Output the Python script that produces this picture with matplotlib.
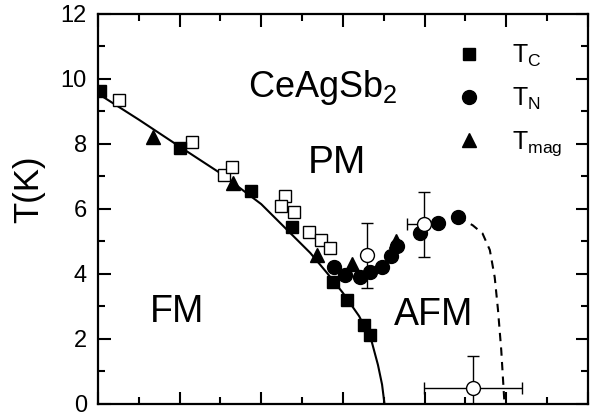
import matplotlib
matplotlib.use('Agg')
import matplotlib.pyplot as plt
from matplotlib.ticker import MultipleLocator

plt.rcParams['font.family'] = ['Liberation Sans', 'DejaVu Sans']
plt.rcParams['mathtext.fontset'] = 'custom'
plt.rcParams['mathtext.rm'] = 'Liberation Sans'
plt.rcParams['mathtext.it'] = 'Liberation Sans:italic'

# Pressure (kbar) / temperature (K) points of the phase diagram
tc_filled_p = [0.2, 10.0, 18.8, 23.8, 28.8, 30.5, 32.6, 33.3]
tc_filled_t = [9.62, 7.88, 6.55, 5.45, 3.75, 3.2, 2.43, 2.12]

tc_open_p = [2.6, 11.5, 15.5, 16.4, 22.9, 22.4, 24.0, 25.8, 27.3, 28.4]
tc_open_t = [9.35, 8.06, 7.05, 7.3, 6.4, 6.1, 5.9, 5.3, 5.05, 4.8]

tn_p = [28.9, 30.2, 32.1, 33.3, 34.8, 35.9, 36.6, 39.4, 41.6, 44.1]
tn_t = [4.2, 3.97, 3.9, 4.05, 4.2, 4.55, 4.85, 5.25, 5.58, 5.75]

tmag_p = [6.7, 16.5, 26.8, 31.1, 36.5]
tmag_t = [8.22, 6.8, 4.58, 4.3, 5.02]

# open circles with error bars
oc_p = [33.0, 39.9, 45.9]
oc_t = [4.58, 5.53, 0.48]
oc_perr = [0.0, 2.0, 6.0]
oc_terr = [1.0, 1.0, 1.0]

# guide lines for the FM and AFM boundaries
fm_line_p = [0, 5, 10, 15, 20, 24, 26, 28, 30, 32, 33.5, 34.3, 34.8, 35.1]
fm_line_t = [9.55, 8.75, 7.92, 7.1, 6.15, 5.15, 4.65, 4.05, 3.42, 2.7, 1.95, 1.2, 0.6, 0.0]

afm_line_p = [44.1, 45.9, 47.1, 48.0, 48.6, 49.0, 49.4, 49.8]
afm_line_t = [5.75, 5.5, 5.25, 4.74, 3.9, 2.9, 1.66, 0.0]

fig = plt.figure(figsize=(6.01, 4.19), dpi=100)
ax = fig.add_axes([0.163, 0.0358, 0.815, 0.9308])

ax.plot(fm_line_p, fm_line_t, color='black', lw=1.5, zorder=1)
ax.plot(afm_line_p, afm_line_t, color='black', lw=1.5, ls=(0, (4, 3)), zorder=1)

ax.plot(tc_open_p, tc_open_t, 's', ms=9, mfc='white', mec='black', mew=1.0, zorder=3)
ax.plot(tc_filled_p, tc_filled_t, 's', ms=9, color='black', zorder=4, label=r'T$_\mathrm{C}$')
ax.plot(tn_p, tn_t, 'o', ms=10, color='black', zorder=4, label=r'T$_\mathrm{N}$')
ax.plot(tmag_p, tmag_t, '^', ms=10, color='black', zorder=4, label=r'T$_\mathrm{mag}$')

ax.errorbar(oc_p, oc_t, xerr=oc_perr, yerr=oc_terr, fmt='o', ms=10, mfc='white',
            mec='black', mew=1.0, ecolor='black', elinewidth=1.0, capsize=4,
            capthick=1.0, zorder=5)

ax.text(18.4, 9.45, r'CeAgSb$_2$', fontsize=26, ha='left', va='baseline')
ax.text(29.3, 7.1, 'PM', fontsize=28, ha='center', va='baseline')
ax.text(9.7, 2.52, 'FM', fontsize=27, ha='center', va='baseline')
ax.text(41.1, 2.42, 'AFM', fontsize=27, ha='center', va='baseline')

leg = ax.legend(loc='upper left', bbox_to_anchor=(0.712, 0.952), frameon=False,
                fontsize=18, handlelength=1.0, handletextpad=1.2,
                labelspacing=0.68, borderaxespad=0.0)

ax.set_xlim(0, 60)
ax.set_ylim(0, 12)
ax.xaxis.set_major_locator(MultipleLocator(10))
ax.xaxis.set_minor_locator(MultipleLocator(5))
ax.yaxis.set_major_locator(MultipleLocator(2))
ax.yaxis.set_minor_locator(MultipleLocator(1))

ax.tick_params(which='both', direction='in', top=True, right=True, width=1.5,
               labelbottom=False, labelsize=17, pad=8)
ax.tick_params(which='major', length=9)
ax.tick_params(which='minor', length=5)
for spine in ax.spines.values():
    spine.set_linewidth(1.6)

ax.set_ylabel('T(K)', fontsize=25)
ax.yaxis.set_label_coords(-0.108, 0.55)

fig.savefig('out.png', dpi=100)
